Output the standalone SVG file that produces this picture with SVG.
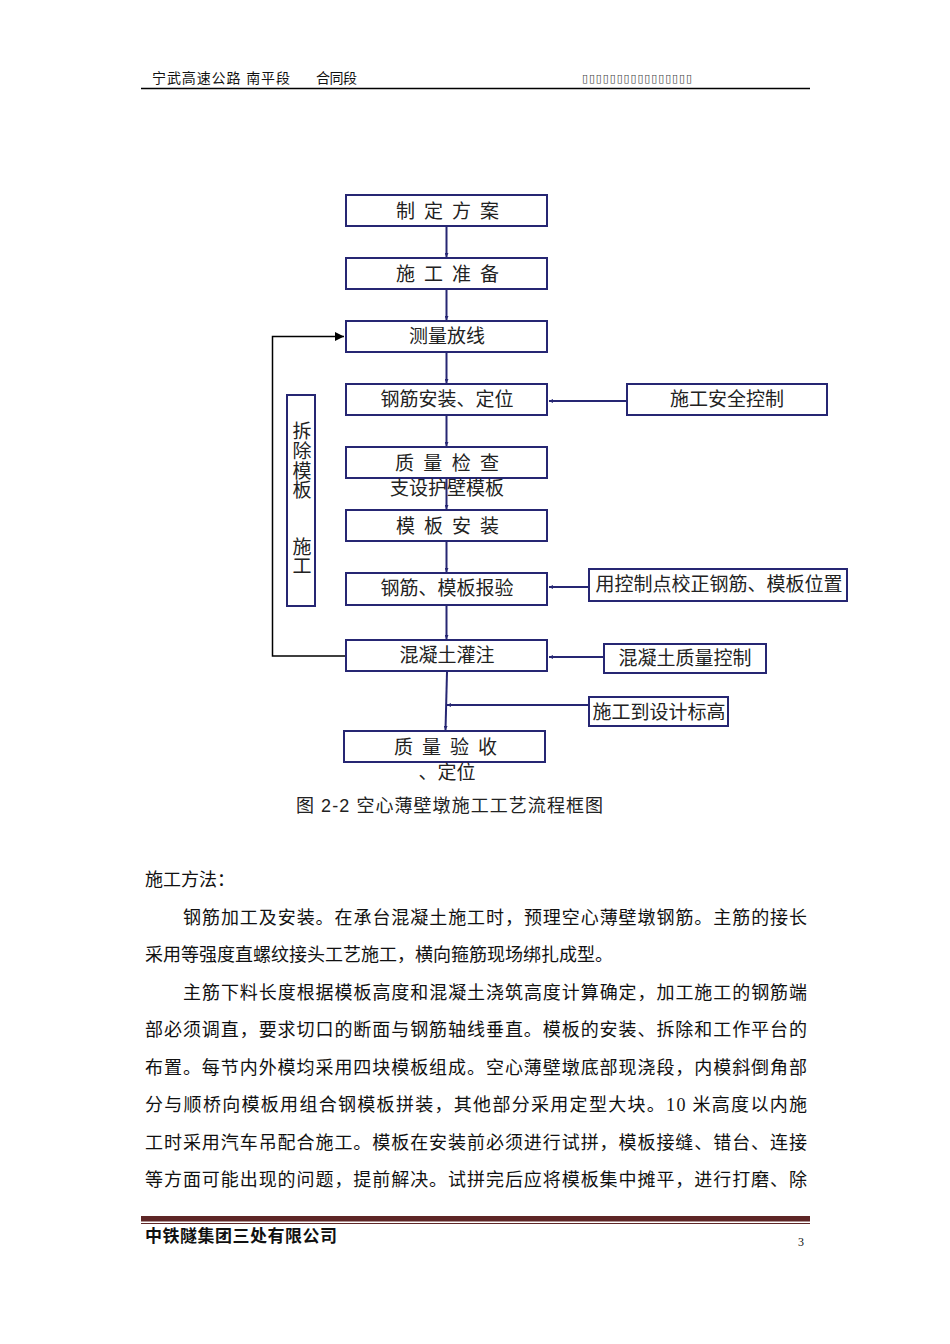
<svg xmlns="http://www.w3.org/2000/svg" width="950" height="1344" viewBox="0 0 950 1344">
<defs>
<marker id="ah" viewBox="0 0 8 8" refX="8" refY="4" markerWidth="4" markerHeight="4" orient="auto" markerUnits="userSpaceOnUse"><path d="M0,0 L8,4 L0,8 z" fill="#262673"/></marker>
<marker id="ahk" viewBox="0 0 10 10" refX="10" refY="5" markerWidth="9" markerHeight="9" orient="auto" markerUnits="userSpaceOnUse"><path d="M0,0 L10,5 L0,10 z" fill="#000"/></marker>
<style>
.box{fill:#fff;stroke:#262673;stroke-width:2}
.bt{font-family:"Liberation Serif","Noto Sans CJK SC",serif;font-size:19px;fill:#222;text-anchor:middle}
.con{stroke:#262673;stroke-width:2;fill:none;marker-end:url(#ah)}
.body{font-family:"Liberation Serif","Noto Sans CJK SC",serif;font-size:18px;fill:#111}
.hd{font-family:"Liberation Sans","Noto Sans CJK SC",sans-serif;font-size:14px;fill:#111}
</style>
</defs>
<rect width="950" height="1344" fill="#fff"/>
<g id="header">
<text class="hd" x="152" y="83" textLength="138" lengthAdjust="spacing">宁武高速公路 南平段</text>
<text class="hd" x="316" y="83" textLength="41" lengthAdjust="spacing">合同段</text>
<text x="582" y="82" font-family="DejaVu Sans,sans-serif" font-size="11" fill="#444" textLength="110" lengthAdjust="spacing">▯▯▯▯▯▯▯▯▯▯▯▯▯▯▯▯</text>
<line x1="141" y1="88.5" x2="810" y2="88.5" stroke="#000" stroke-width="1.5"/>
</g>
<g id="connectors">
<line class="con" x1="446.5" y1="227" x2="446.5" y2="257"/>
<line class="con" x1="446.5" y1="290" x2="446.5" y2="320"/>
<line class="con" x1="446.5" y1="353" x2="446.5" y2="383"/>
<line class="con" x1="446.5" y1="416" x2="446.5" y2="446"/>
<line class="con" x1="446.5" y1="479" x2="446.5" y2="509"/>
<line class="con" x1="446.5" y1="542" x2="446.5" y2="572"/>
<line class="con" x1="446.5" y1="606" x2="446.5" y2="639"/>
<line class="con" x1="447" y1="672" x2="445.5" y2="730"/>
<line class="con" x1="627" y1="401" x2="549" y2="401"/>
<line class="con" x1="589" y1="587" x2="549" y2="587"/>
<line class="con" x1="604" y1="657" x2="549" y2="657"/>
<line class="con" x1="589" y1="705" x2="447" y2="705"/>
<polyline points="345,656 272.5,656 272.5,336.5 344,336.5" fill="none" stroke="#000" stroke-width="1.5" marker-end="url(#ahk)"/>
</g>
<g id="n1"><rect class="box" x="346" y="195" width="201" height="31"/><text class="bt" x="447.5" y="218" textLength="103" lengthAdjust="spacing">制定方案</text></g>
<g id="n2"><rect class="box" x="346" y="258" width="201" height="31"/><text class="bt" x="447.5" y="281" textLength="103" lengthAdjust="spacing">施工准备</text></g>
<g id="n3"><rect class="box" x="346" y="321" width="201" height="31"/><text class="bt" x="447" y="343">测量放线</text></g>
<g id="n4"><rect class="box" x="346" y="384" width="201" height="31"/><text class="bt" x="447" y="406">钢筋安装、定位</text></g>
<g id="n5"><rect class="box" x="346" y="447" width="201" height="31"/><text class="bt" x="447" y="470" textLength="104" lengthAdjust="spacing">质量检查</text></g>
<g id="n5b"><text class="bt" x="447" y="495">支设护壁模板</text></g>
<g id="n6"><rect class="box" x="346" y="510" width="201" height="31"/><text class="bt" x="447.5" y="533" textLength="103" lengthAdjust="spacing">模板安装</text></g>
<g id="n7"><rect class="box" x="346" y="573" width="201" height="32"/><text class="bt" x="447" y="595">钢筋、模板报验</text></g>
<g id="n8"><rect class="box" x="346" y="640" width="201" height="31"/><text class="bt" x="447" y="662">混凝土灌注</text></g>
<g id="n9"><rect class="box" x="344" y="731" width="201" height="31"/><text class="bt" x="445.5" y="754" textLength="103" lengthAdjust="spacing">质量验收</text></g>
<g id="n9b"><text class="bt" x="447" y="779">、定位</text></g>
<g id="r1"><rect class="box" x="627" y="384" width="200" height="31"/><text class="bt" x="727" y="406">施工安全控制</text></g>
<g id="r2"><rect class="box" x="589" y="569" width="258" height="32"/><text class="bt" x="719" y="591">用控制点校正钢筋、模板位置</text></g>
<g id="r3"><rect class="box" x="604" y="644" width="162" height="29"/><text class="bt" x="685" y="665">混凝土质量控制</text></g>
<g id="r4"><rect class="box" x="589" y="697" width="139" height="29"/><text class="bt" x="659" y="719">施工到设计标高</text></g>
<g id="side"><rect class="box" x="287" y="395" width="28" height="211"/>
<text class="bt" x="302" y="438" font-size="18">拆</text><text class="bt" x="302" y="458" font-size="18">除</text><text class="bt" x="302" y="478" font-size="18">模</text><text class="bt" x="302" y="497" font-size="18">板</text><text class="bt" x="302" y="554" font-size="18">施</text><text class="bt" x="302" y="573" font-size="18">工</text></g>
<g id="caption"><text x="296" y="812" font-family="Liberation Sans,Noto Sans CJK SC,sans-serif" font-size="18" fill="#222" textLength="307" lengthAdjust="spacing">图 2-2 <tspan font-family="Liberation Serif,Noto Sans CJK SC,serif">空心薄壁墩施工工艺流程框图</tspan></text></g>
<g id="bodytext">
<text class="body" x="145" y="886">施工方法：</text>
<text class="body" x="183" y="924" textLength="624" lengthAdjust="spacing">钢筋加工及安装。在承台混凝土施工时，预理空心薄壁墩钢筋。主筋的接长</text>
<text class="body" x="145" y="961">采用等强度直螺纹接头工艺施工，横向箍筋现场绑扎成型。</text>
<text class="body" x="183" y="999" textLength="624" lengthAdjust="spacing">主筋下料长度根据模板高度和混凝土浇筑高度计算确定，加工施工的钢筋端</text>
<text class="body" x="145" y="1036" textLength="662" lengthAdjust="spacing">部必须调直，要求切口的断面与钢筋轴线垂直。模板的安装、拆除和工作平台的</text>
<text class="body" x="145" y="1074" textLength="662" lengthAdjust="spacing">布置。每节内外模均采用四块模板组成。空心薄壁墩底部现浇段，内模斜倒角部</text>
<text class="body" x="145" y="1111" textLength="662" lengthAdjust="spacing">分与顺桥向模板用组合钢模板拼装，其他部分采用定型大块。10 米高度以内施</text>
<text class="body" x="145" y="1149" textLength="662" lengthAdjust="spacing">工时采用汽车吊配合施工。模板在安装前必须进行试拼，模板接缝、错台、连接</text>
<text class="body" x="145" y="1186" textLength="662" lengthAdjust="spacing">等方面可能出现的问题，提前解决。试拼完后应将模板集中摊平，进行打磨、除</text>
</g>
<g id="footer">
<rect x="141" y="1216" width="669" height="5.5" fill="#5e2626"/>
<line x1="141" y1="1223.5" x2="810" y2="1223.5" stroke="#5e2626" stroke-width="1"/>
<text x="145" y="1242" font-family="Liberation Sans,Noto Sans CJK SC,sans-serif" font-size="17" font-weight="bold" fill="#111" textLength="192" lengthAdjust="spacing">中铁隧集团三处有限公司</text>
<text x="798" y="1246" font-family="Liberation Serif,serif" font-size="12" fill="#111">3</text>
</g>
</svg>
